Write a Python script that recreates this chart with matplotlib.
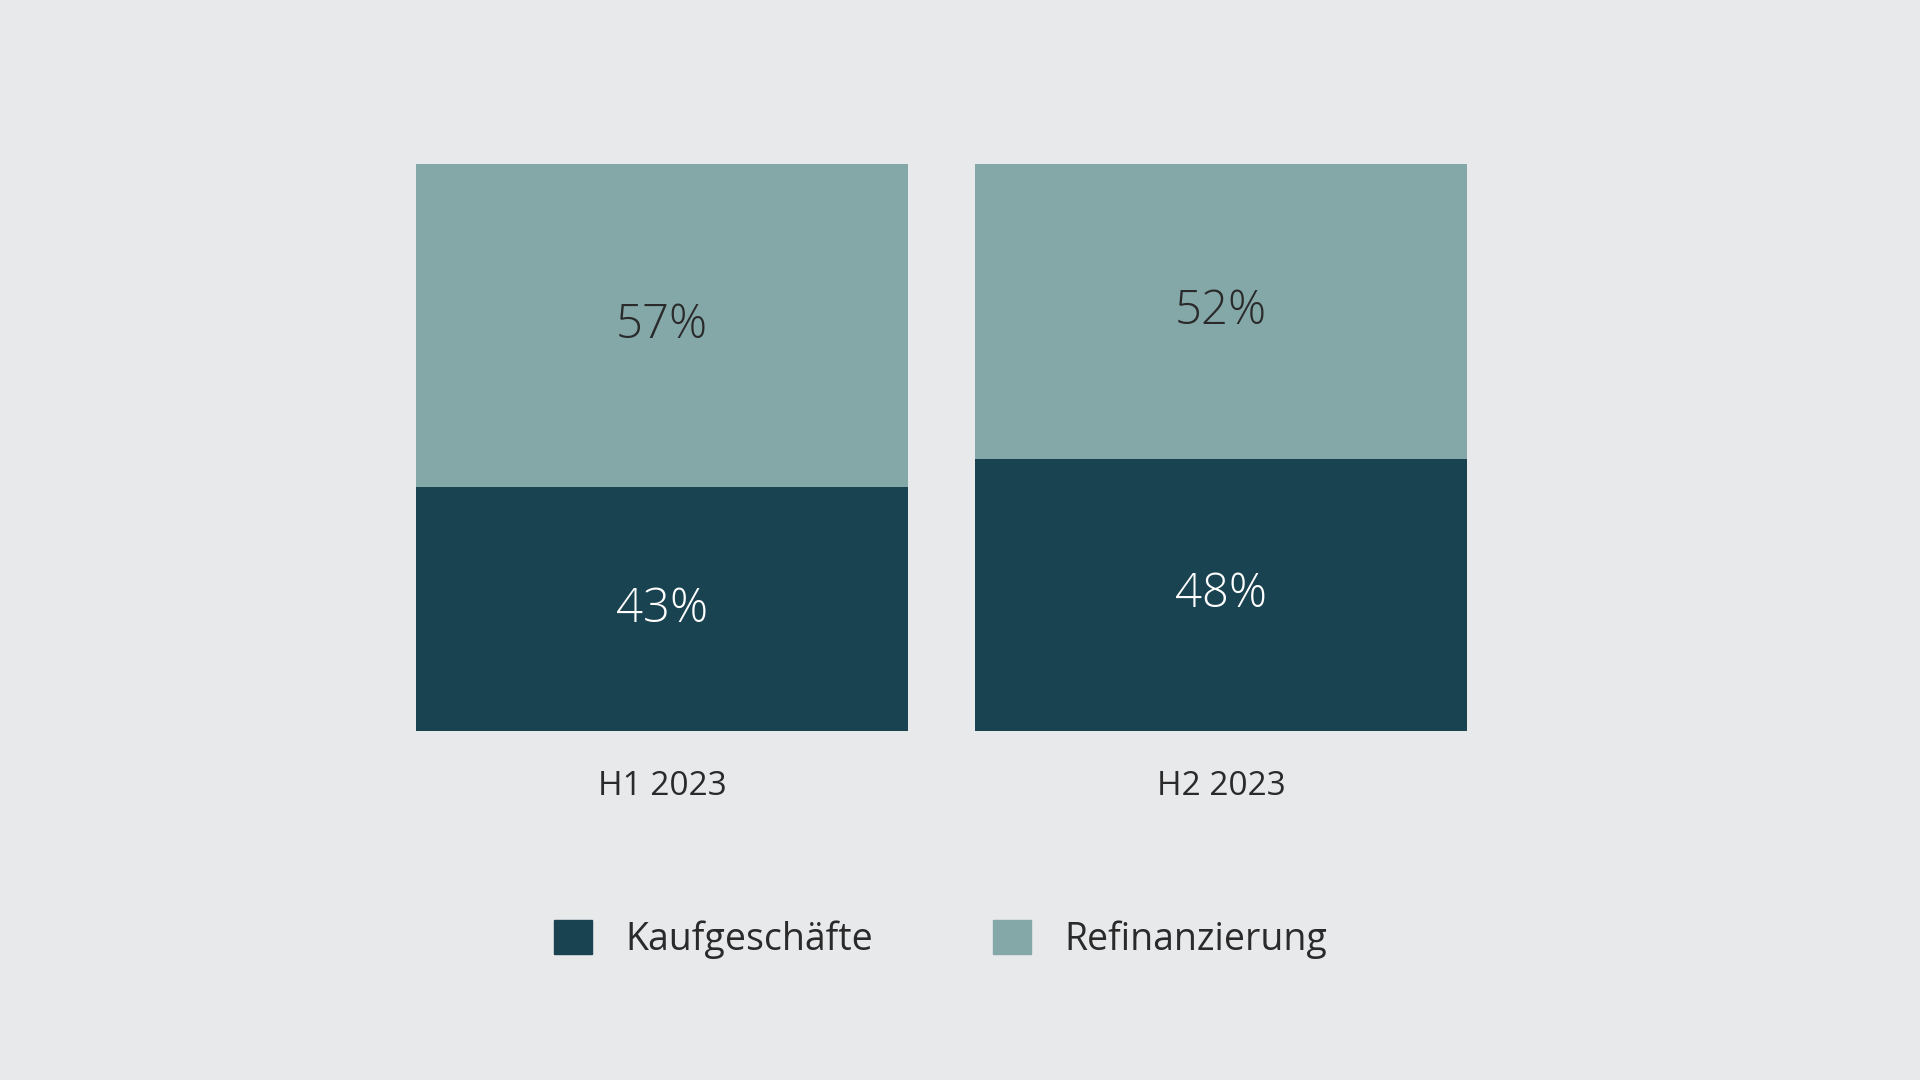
import matplotlib
matplotlib.use("Agg")
import matplotlib.pyplot as plt
from matplotlib.patches import Patch

categories = ["H1 2023", "H2 2023"]
kauf = [43, 48]
refi = [57, 52]
series_names = ["Kaufgeschäfte", "Refinanzierung"]

BG = "#e8e9eb"
DARK = "#1a4352"
LIGHT = "#84a7a8"
INK = "#2a2a2a"

plt.rcParams["font.family"] = "Open Sans"

fig = plt.figure(figsize=(19.2, 10.8), dpi=100, facecolor=BG)
ax = fig.add_axes([0.2168, 0.323, 0.5472, 0.525], facecolor=BG)

x = range(len(categories))
w = 0.88
ax.bar(x, kauf, width=w, color=DARK)
ax.bar(x, refi, width=w, bottom=kauf, color=LIGHT)

for i, (k, r) in enumerate(zip(kauf, refi)):
    ax.text(i, k / 2, f"{k}%", ha="center", va="center", fontsize=34,
            color="white", fontweight="light")
    ax.text(i, k + r / 2, f"{r}%", ha="center", va="center", fontsize=34,
            color=INK, fontweight="light")

ax.set_xlim(-w / 2, len(categories) - 1 + w / 2)
ax.set_ylim(0, 100)
ax.set_xticks(list(x))
ax.set_xticklabels(categories, fontsize=24, color=INK)
ax.tick_params(axis="x", length=0, pad=28)
ax.set_yticks([])
for s in ax.spines.values():
    s.set_visible(False)

handles = [Patch(color=DARK), Patch(color=LIGHT)]
fig.legend(handles, series_names, loc="center", bbox_to_anchor=(0.49, 0.13),
           ncol=2, frameon=False, fontsize=27, labelcolor=INK,
           handlelength=1.0, handleheight=1.0, handletextpad=0.9,
           columnspacing=3.2)

fig.savefig("out.png", dpi=100, facecolor=BG)
